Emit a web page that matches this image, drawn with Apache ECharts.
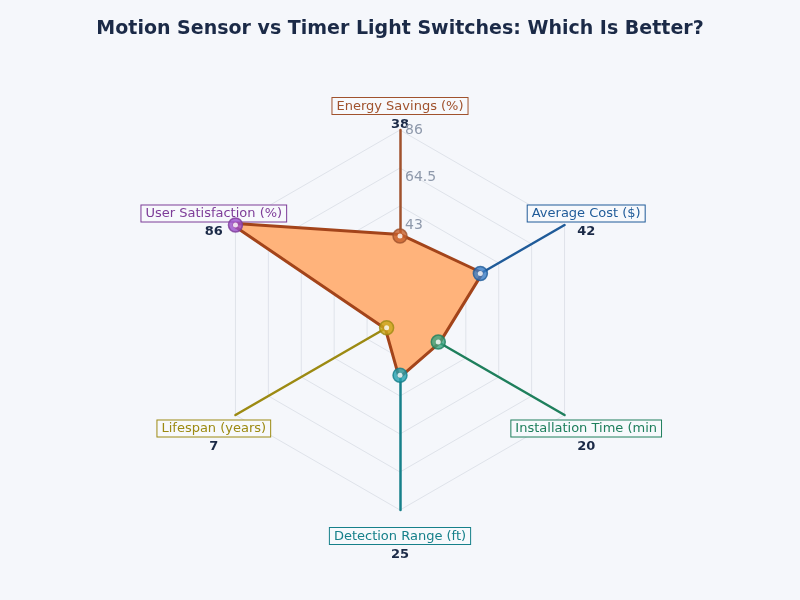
<!DOCTYPE html>
<html>
<head>
<meta charset="utf-8">
<title>Motion Sensor vs Timer Light Switches</title>
<script src="https://cdn.jsdelivr.net/npm/echarts@6/dist/echarts.min.js"></script>
<style>
  html, body { margin: 0; padding: 0; background: #f5f7fb; }
  #chart { width: 800px; height: 600px; }
</style>
</head>
<body>
<div id="chart"></div>
<script>
// axes in clockwise order, starting at the top
var axisNames = ['Energy Savings (%)', 'Average Cost ($)', 'Installation Time (min)', 'Detection Range (ft)', 'Lifespan (years)', 'User Satisfaction (%)'];
var values = [38, 42, 20, 25, 7, 86];
var axisColors = ['#a0522d', '#1f5b99', '#1e7f5c', '#16808a', '#9c8a12', '#7d3c98'];
var markerColors = ['#c65f2c', '#3a7cc4', '#3aa37f', '#23a0b0', '#c9a81c', '#9b4dca'];
var maxValue = 86;
var tickStep = 21.5;

var chart = echarts.init(document.getElementById('chart'));

// radar goes counter-clockwise, so feed it the axes in reversed order
var radarOrder = [0, 5, 4, 3, 2, 1];

var rich = {
    v: { fontFamily: 'DejaVu Sans', fontSize: 13, fontWeight: 'bold', color: '#1b2a47', padding: [4, 0, 0, 0], align: 'center' }
};
axisNames.forEach(function (n, i) {
    rich['n' + i] = {
        fontFamily: 'DejaVu Sans', fontSize: 13, color: axisColors[i],
        borderColor: axisColors[i], borderWidth: 1, padding: [2, 4, 1, 4],
        backgroundColor: '#f7f9fc', align: 'center'
    };
});

chart.setOption({
    backgroundColor: '#f5f7fb',
    title: {
        text: 'Motion Sensor vs Timer Light Switches: Which Is Better?',
        left: 'center',
        top: 15,
        textStyle: { fontFamily: 'DejaVu Sans', fontSize: 19, fontWeight: 'bold', color: '#1b2a47' }
    },
    radar: {
        center: [400, 320],
        radius: 190,
        startAngle: 90,
        splitNumber: 5,
        shape: 'polygon',
        nameGap: 25,
        axisName: {
            align: 'center',
            verticalAlign: 'middle',
            padding: [19, 0, 0, 0],
            formatter: function (name) {
                var i = axisNames.indexOf(name);
                var label = name.length > 22 ? name.slice(0, 22) : name;
                return '{n' + i + '|' + label + '}\n{v|' + values[i] + '}';
            },
            rich: rich
        },
        splitLine: { lineStyle: { color: '#dfe3ea', width: 1 } },
        splitArea: { show: false },
        axisTick: { show: false },
        axisLine: { show: true, lineStyle: { width: 2.5 } },
        indicator: radarOrder.map(function (i) {
            return {
                name: axisNames[i], min: 0, max: maxValue, color: axisColors[i],
                axisLine: { lineStyle: { color: axisColors[i], width: 2.5 } }
            };
        })
    },
    polar: { center: [400, 320], radius: 190 },
    angleAxis: {
        type: 'category',
        data: axisNames,
        startAngle: 90,
        clockwise: true,
        boundaryGap: false,
        axisLine: { show: false },
        axisTick: { show: false },
        axisLabel: { show: false },
        splitLine: { show: false }
    },
    radiusAxis: {
        min: 0,
        max: maxValue,
        interval: tickStep,
        axisLine: { show: false },
        axisTick: { show: false },
        splitLine: { show: false },
        axisLabel: { color: '#8e99ab', fontFamily: 'DejaVu Sans', fontSize: 14, margin: -5, align: 'left' }
    },
    series: [
        {
            type: 'radar',
            z: 2,
            symbol: 'none',
            lineStyle: { color: '#a3441a', width: 6 },
            areaStyle: { color: '#ffb37b', opacity: 1 },
            data: [{
                value: radarOrder.map(function (i) { return values[i]; }),
                lineStyle: { color: '#a3441a', width: 6 }
            }]
        },
        {
            type: 'scatter',
            coordinateSystem: 'polar',
            z: 3,
            symbol: 'circle',
            symbolSize: 14,
            data: values.map(function (v, i) {
                return { value: [v, i], itemStyle: { color: markerColors[i], borderColor: axisColors[i], borderWidth: 1.5 } };
            })
        },
        {
            type: 'scatter',
            coordinateSystem: 'polar',
            z: 4,
            symbol: 'circle',
            symbolSize: 5,
            itemStyle: { color: '#ffffff' },
            data: values.map(function (v, i) { return [v, i]; })
        }
    ]
});
</script>
</body>
</html>
